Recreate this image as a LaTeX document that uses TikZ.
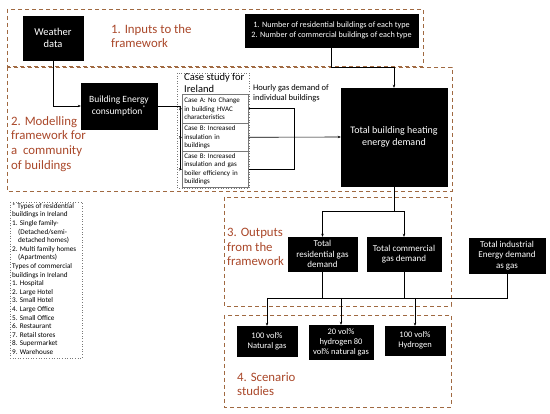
\documentclass[tikz,border=0pt]{standalone}
\usepackage{fontspec}
\setmainfont{Carlito}
\usetikzlibrary{arrows.meta}
\definecolor{frame}{RGB}{160,105,65}
\definecolor{ttl}{RGB}{170,72,42}
\definecolor{gline}{RGB}{120,120,120}
\tikzset{
  blk/.style={fill=black,draw=black,text=white,align=center,inner sep=1pt,font=\fontsize{9}{10.5}\selectfont},
  grp/.style={draw=frame,dash pattern=on 4pt off 3pt,line width=0.9pt},
  ttlnode/.style={text=ttl,anchor=north west,align=left,inner sep=0pt,font=\fontsize{12.8}{14.7}\selectfont},
  casebox/.style={draw=gline,line width=0.6pt,align=left,anchor=north west,inner sep=0pt,font=\fontsize{7}{8.3}\selectfont},
  dotbox/.style={draw=gline,dotted,line width=0.6pt},
  conn/.style={draw=black,line width=0.6pt},
  arr/.style={conn,-{Stealth[length=3pt,width=2.5pt]}},
}
\begin{document}
\begin{tikzpicture}[x=1pt,y=-1pt]
\useasboundingbox[fill=white] (0,0) rectangle (550,414);
% group frames
\draw[grp] (7,9) rectangle (423,66);
\draw[grp] (7,67) rectangle (452,191);
\draw[grp] (224,197) rectangle (451,306);
\draw[grp] (224,315) rectangle (451,407);
% titles
\node[ttlnode] (t1) at (111,24) {1. Inputs to the\\framework};
\node[ttlnode] (t2) at (11,116) {2. Modelling\\framework for\\a\ \ community\\of buildings};
\node[ttlnode] (t3) at (227,228) {3. Outputs\\from the\\framework};
\node[ttlnode] (t4) at (237,372) {4. Scenario\\studies};
% input boxes
\node[blk,minimum width=60pt,minimum height=44pt,font=\fontsize{10.5}{12.5}\selectfont] (weather) at (53,38) {Weather\\data};
\node[blk,minimum width=173pt,minimum height=33pt,font=\fontsize{8.2}{9.6}\selectfont] (inputs) at (331.5,30.5) {1. Number of residential buildings of each type\\2. Number of commercial buildings of each type};
% modelling
\node[blk,minimum width=76pt,minimum height=46pt,font=\fontsize{9.5}{11.5}\selectfont] (be) at (119,106) {Building Energy\\consumption\textsuperscript{*}};
\node[blk,minimum width=106pt,minimum height=98pt,font=\fontsize{10}{12.5}\selectfont] (heat) at (394,137) {Total building heating\\energy demand};
\draw[dotbox] (177,73) rectangle (249,188);
\node[anchor=north west,align=left,inner sep=0pt,font=\fontsize{10.5}{12.5}\selectfont] (cstitle) at (184,73) {Case study for\\Ireland};
\node[casebox,minimum width=66pt,minimum height=29pt,text width=64pt] (caseA) at (182,94) {\hspace*{1pt}Case A: No Change\\\hspace*{1pt}in building HVAC\\\hspace*{1pt}characteristics};
\node[casebox,minimum width=66pt,minimum height=28pt,text width=64pt] (caseB) at (182,123) {\hspace*{1pt}Case B: Increased\\\hspace*{1pt}insulation in\\\hspace*{1pt}buildings};
\node[casebox,minimum width=66pt,minimum height=36pt,text width=64pt] (caseC) at (182,151) {\hspace*{1pt}Case B: Increased\\\hspace*{1pt}insulation and gas\\\hspace*{1pt}boiler efficiency in\\\hspace*{1pt}buildings};
\node[anchor=north west,align=left,inner sep=0pt,font=\fontsize{8.5}{10}\selectfont] (hourly) at (253,84) {Hourly gas demand of\\individual buildings};
% outputs
\node[blk,minimum width=69pt,minimum height=34pt] (res) at (322.5,254) {Total\\residential gas\\demand};
\node[blk,minimum width=74pt,minimum height=34pt] (com) at (404,254) {Total commercial\\gas demand};
\node[blk,minimum width=76pt,minimum height=35pt] (ind) at (507,255.5) {Total industrial\\Energy demand\\as gas};
% scenarios
\node[blk,minimum width=60pt,minimum height=30pt,font=\fontsize{8.5}{10}\selectfont] (s1) at (267,341) {100 vol\%\\Natural gas};
\node[blk,minimum width=64pt,minimum height=34pt,font=\fontsize{8.5}{10}\selectfont] (s2) at (341,342) {20 vol\%\\hydrogen 80\\vol\% natural gas};
\node[blk,minimum width=60pt,minimum height=29pt,font=\fontsize{8.5}{10}\selectfont] (s3) at (415,340.5) {100 vol\%\\Hydrogen};
% footnote
\draw[dotbox] (10,202) rectangle (82,358);
\node[anchor=north west,align=left,inner sep=0pt,font=\fontsize{7.2}{8.6}\selectfont] (foot) at (12,203) {* Types of residential\\buildings in Ireland\\1. Single family-\\\hspace*{6pt}(Detached/semi-\\\hspace*{6pt}detached homes)\\2. Multi family homes\\\hspace*{6pt}(Apartments)\\Types of commercial\\buildings in Ireland\\1. Hospital\\2. Large Hotel\\3. Small Hotel\\4. Large Office\\5. Small Office\\6. Restaurant\\7. Retail stores\\8. Supermarket\\9. Warehouse};
% connectors
\coordinate (split) at (180,106);
\coordinate (join) at (294,137);
\coordinate (bend1) at (331.5,67);
\coordinate (out) at (394,211);
\coordinate (bus) at (267,298);
\draw[arr] (weather.south) |- (be.west);
\draw[conn] (be.east) -- (split);
\draw[arr] (split) |- (caseA.west);
\draw[arr] (split) |- (caseB.west);
\draw[arr] (split) |- (caseC.west);
\draw[conn] (caseA.east) -| (join);
\draw[conn] (caseC.east) -| (join);
\draw[arr] (caseB.east) -- (heat.west);
\draw[arr] (inputs.south) -- (bend1) -| (heat.north);
\draw[conn] (heat.south) -- (out);
\draw[arr] (out) -| (res.north);
\draw[arr] (out) -| (com.north);
\draw[conn] (res.south) |- (bus);
\draw[conn] (com.south) |- (bus);
\draw[conn] (ind.south) |- (bus);
\draw[arr] (bus) -- (s1.north);
\draw[arr] (s2.north |- bus) -- (s2.north);
\draw[arr] (s3.north |- bus) -- (s3.north);
\end{tikzpicture}
\end{document}
